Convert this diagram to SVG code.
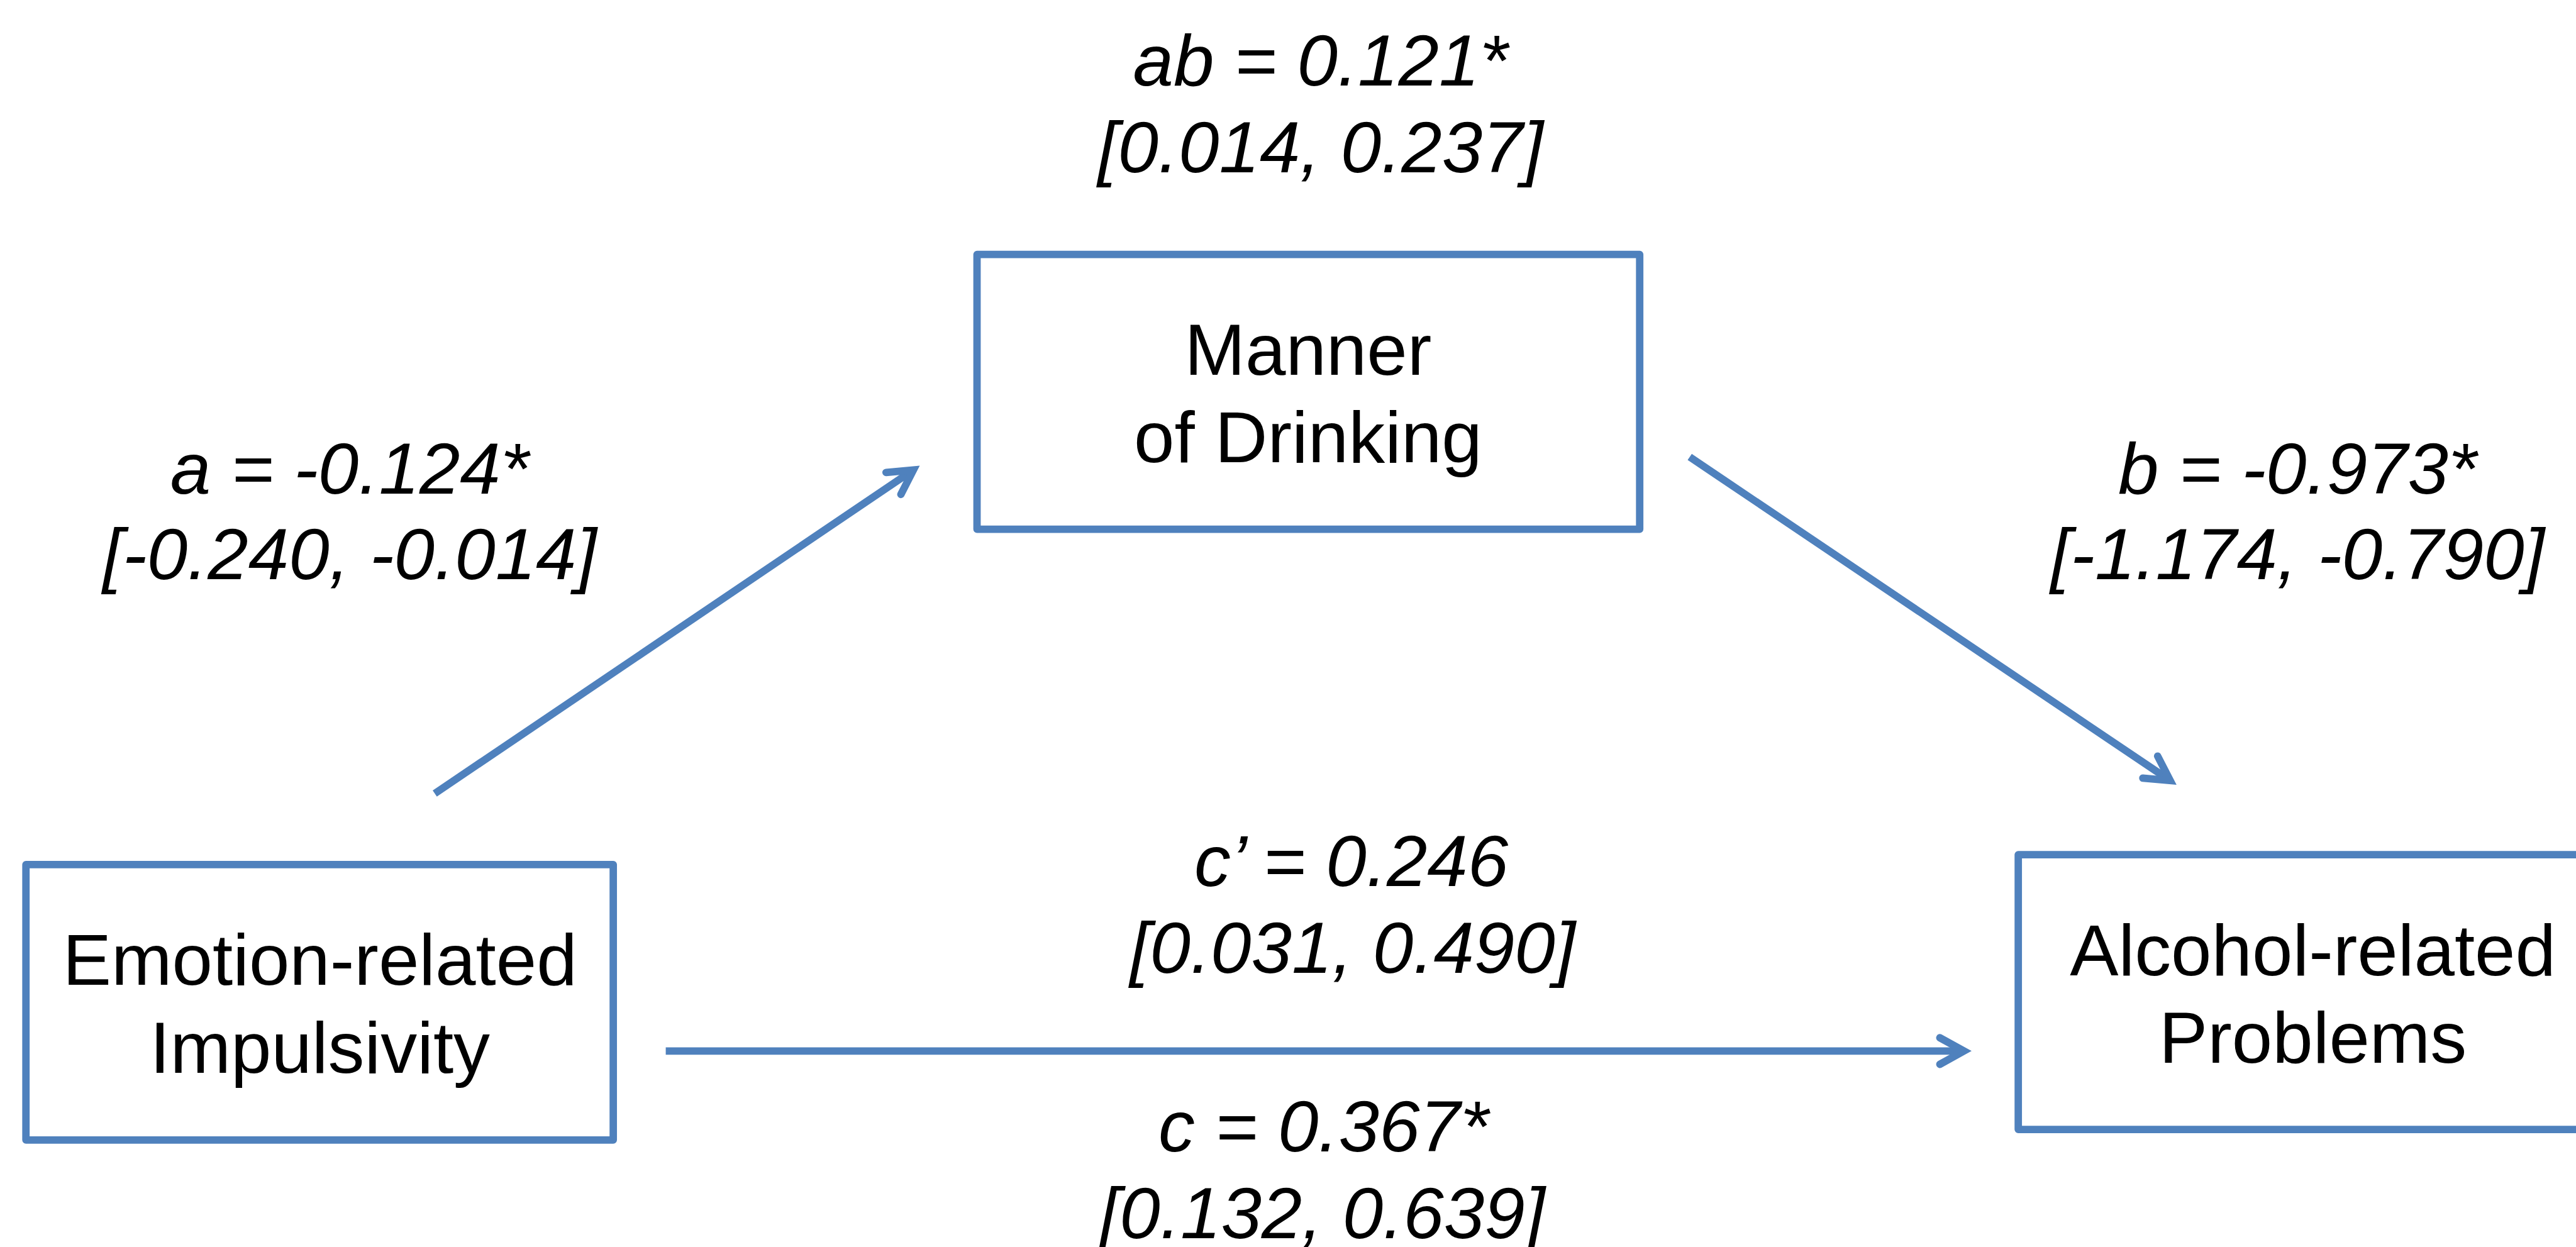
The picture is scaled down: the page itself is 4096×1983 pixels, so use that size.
<svg xmlns="http://www.w3.org/2000/svg" width="4096" height="1983" viewBox="0 0 4096 1983">
<style>
.node{fill:#ffffff;stroke:#4F81BD;stroke-width:12;stroke-linejoin:round}
.txt{font-family:"Liberation Sans",Arial,sans-serif;font-size:118px;fill:#000000;text-anchor:middle}
.ital{font-style:italic}
.edge{fill:none;stroke:#4F81BD;stroke-width:12;stroke-linecap:butt;marker-end:url(#arr)}
</style>
<defs>
<marker id="arr" markerUnits="userSpaceOnUse" viewBox="-60 -40 80 80" markerWidth="80" markerHeight="80" refX="0" refY="0" orient="auto" overflow="visible">
<path d="M -39 -21.5 L 0 0 L -39 21.5" fill="none" stroke="#4F81BD" stroke-width="12" stroke-linecap="round" stroke-linejoin="miter" stroke-miterlimit="10"/>
</marker>
</defs>
<rect x="0" y="0" width="4096" height="1983" fill="#ffffff"/>
<g transform="scale(0.982)">
<g id="connectors">
<path id="edge-a" class="edge" d="M 704 1285 L 1479 761"/>
<path id="edge-b" class="edge" d="M 2736 740 L 3514 1264"/>
<path id="edge-c" class="edge" d="M 1078 1702 L 3180 1702"/>
</g>
<g id="node-manner">
<rect class="node" x="1582" y="412" width="1073" height="445"/>
<text class="txt" x="2118" y="607">Manner</text>
<text class="txt" x="2118" y="748">of Drinking</text>
</g>
<g id="node-emotion">
<rect class="node" x="42" y="1400" width="951" height="446"/>
<text class="txt" x="518" y="1595">Emotion-related</text>
<text class="txt" x="518" y="1737">Impulsivity</text>
</g>
<g id="node-alcohol">
<rect class="node" x="3268" y="1384" width="960" height="445"/>
<text class="txt" x="3745" y="1579">Alcohol-related</text>
<text class="txt" x="3745" y="1721">Problems</text>
</g>
<g id="labels">
<text class="txt ital" x="2138" y="139">ab = 0.121*</text>
<text class="txt ital" x="2138" y="279">[0.014, 0.237]</text>
<text class="txt ital" x="566" y="799">a = -0.124*</text>
<text class="txt ital" x="566" y="938">[-0.240, -0.014]</text>
<text class="txt ital" x="3720" y="799">b = -0.973*</text>
<text class="txt ital" x="3720" y="938">[-1.174, -0.790]</text>
<text class="txt ital" x="2188" y="1435">c’ = 0.246</text>
<text class="txt ital" x="2190" y="1575">[0.031, 0.490]</text>
<text class="txt ital" x="2143" y="1865">c = 0.367*</text>
<text class="txt ital" x="2141" y="2005">[0.132, 0.639]</text>
</g>
</g>
</svg>
